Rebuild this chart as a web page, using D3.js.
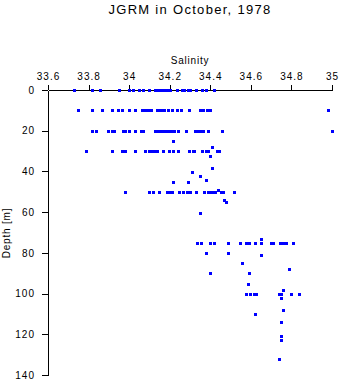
<!DOCTYPE html>
<html>
<head>
<meta charset="utf-8">
<script src="https://cdn.jsdelivr.net/npm/d3@7"></script>
<style>
  html, body { margin: 0; padding: 0; background: #fff; }
  svg { display: block; }
  text { font-family: "Liberation Sans", Arial, Helvetica, sans-serif; fill: #000; }
</style>
</head>
<body>
<svg id="chart" width="341" height="384"></svg>
<script>
const title = "JGRM in October, 1978";
const xTickValues = [33.6, 33.8, 34.0, 34.2, 34.4, 34.6, 34.8, 35.0];
const xTickLabels = ["33.6", "33.8", "34", "34.2", "34.4", "34.6", "34.8", "35"];
const yTickValues = [0, 20, 40, 60, 80, 100, 120, 140];

const sal0 = [33.728, 33.818, 33.858, 33.948, 33.999, 34.020, 34.050, 34.069, 34.099, 34.127, 34.139, 34.152, 34.164, 34.176, 34.188, 34.201, 34.237, 34.259, 34.271, 34.288, 34.300, 34.328, 34.359, 34.378, 34.418];
const sal10 = [33.749, 33.818, 33.867, 33.917, 33.946, 33.966, 33.998, 34.030, 34.063, 34.078, 34.094, 34.109, 34.135, 34.147, 34.159, 34.173, 34.193, 34.212, 34.237, 34.257, 34.296, 34.349, 34.365, 34.382, 34.401, 34.981];
const sal20 = [33.818, 33.836, 33.897, 33.914, 33.927, 33.968, 33.979, 33.999, 34.029, 34.057, 34.069, 34.127, 34.137, 34.147, 34.157, 34.167, 34.176, 34.191, 34.206, 34.221, 34.239, 34.280, 34.324, 34.339, 34.354, 34.362, 34.390, 34.459, 35.000];
const sal30 = [33.787, 33.917, 33.963, 33.979, 34.029, 34.079, 34.098, 34.111, 34.127, 34.138, 34.168, 34.196, 34.217, 34.239, 34.296, 34.313, 34.321, 34.357, 34.377, 34.387, 34.434, 34.442];
const sal50 = [33.978, 34.099, 34.119, 34.148, 34.185, 34.197, 34.209, 34.247, 34.267, 34.286, 34.300, 34.329, 34.370, 34.390, 34.400, 34.411, 34.423, 34.451, 34.461, 34.518];
const sal75 = [34.333, 34.352, 34.398, 34.418, 34.488, 34.547, 34.575, 34.592, 34.620, 34.649, 34.699, 34.710, 34.746, 34.759, 34.771, 34.808];
const sal100 = [34.577, 34.597, 34.616, 34.625, 34.739, 34.751, 34.799, 34.838];

// Isolated samples at other depths
const otherSal =   [34.217, 34.409, 34.398, 34.409, 34.309, 34.350, 34.380, 34.217, 34.288, 34.439, 34.468, 34.478, 34.349, 34.649, 34.380, 34.488, 34.648, 34.557, 34.789, 34.399, 34.589, 34.587, 34.759, 34.749, 34.759, 34.620, 34.749, 34.749, 34.749, 34.739];
const otherDepth = [25.2,   28.0,   32.3,   38.3,   40.2,   42.2,   44.4,   45.2,   45.2,   49.0,   54.0,   55.2,   60.2,   73.2,   80.2,   80.2,   81.2,   85.1,   87.9,   90.0,   90.0,   95.2,   98.1,   102.0,  108.2,  110.2,  114.1,  121.0,  123.0,  132.0];

// ---- Build point table ----
const levels = [[0, sal0], [10, sal10], [20, sal20], [30, sal30], [50, sal50], [75, sal75], [100, sal100]];
const points = [];
levels.forEach(([d, arr]) => arr.forEach(s => points.push({ s, d })));
otherSal.forEach((s, i) => points.push({ s, d: otherDepth[i] }));

// ---- Chart ----
const svg = d3.select("#chart");
const x = d3.scaleLinear().domain([33.6, 35.0]).range([48, 332]);
const y = d3.scaleLinear().domain([0, 140]).range([90, 375]);

svg.append("text")
  .attr("x", 190).attr("y", 14)
  .attr("text-anchor", "middle")
  .style("font-size", "13px")
  .style("letter-spacing", "1.3px")
  .text(title);

svg.append("text")
  .attr("x", 190).attr("y", 63.5)
  .attr("text-anchor", "middle")
  .style("font-size", "10px")
  .style("letter-spacing", "0.8px")
  .text("Salinity");

svg.append("text")
  .attr("transform", "translate(10,233) rotate(-90)")
  .attr("text-anchor", "middle")
  .style("font-size", "10px")
  .style("letter-spacing", "0.8px")
  .text("Depth [m]");

const xAxis = d3.axisTop(x)
  .tickValues(xTickValues)
  .tickFormat((d, i) => xTickLabels[i])
  .tickSize(5)
  .tickSizeOuter(0)
  .tickPadding(5.5);

const yAxis = d3.axisLeft(y)
  .tickValues(yTickValues)
  .tickFormat(d3.format("d"))
  .tickSize(6)
  .tickSizeOuter(0)
  .tickPadding(7);

const gx = svg.append("g").attr("transform", "translate(0,90)").call(xAxis);
const gy = svg.append("g").attr("transform", "translate(48,0)").call(yAxis);

[gx, gy].forEach(g => {
  g.attr("font-family", null).attr("font-size", null);
  g.selectAll("path, line").attr("stroke", "#000").attr("stroke-width", 1).attr("shape-rendering", "crispEdges");
  g.selectAll("text").style("font-size", "10px").style("letter-spacing", "1px");
});

svg.append("g")
  .selectAll("rect")
  .data(points)
  .join("rect")
  .attr("x", p => Math.round(x(p.s)) - 1.5)
  .attr("y", p => Math.round(y(p.d)) - 1.5)
  .attr("width", 3)
  .attr("height", 3)
  .attr("fill", "#0000ff")
  .attr("shape-rendering", "crispEdges");
</script>
</body>
</html>
